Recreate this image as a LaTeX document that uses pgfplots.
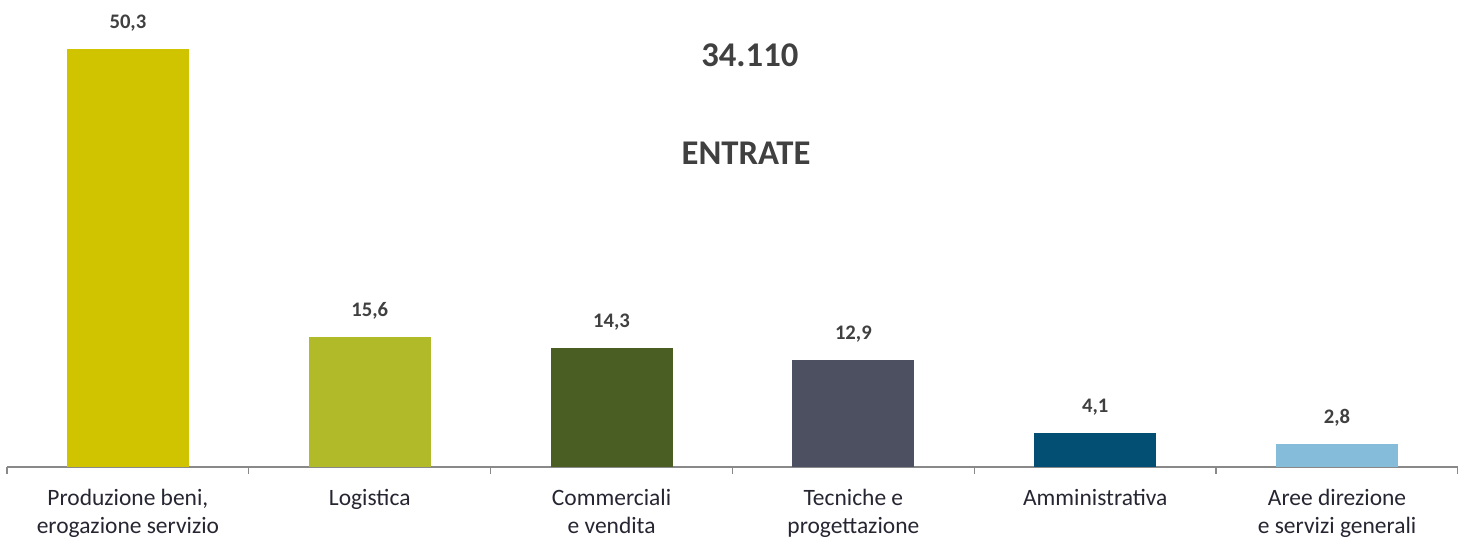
\documentclass[border=0pt]{standalone}
\usepackage{pgfplots}
\pgfplotsset{compat=1.18}
\usepackage{fontspec}
\setmainfont{Carlito}
\definecolor{c1}{HTML}{D0C400}
\definecolor{c2}{HTML}{B1BB29}
\definecolor{c3}{HTML}{4A5E23}
\definecolor{c4}{HTML}{4D5060}
\definecolor{c5}{HTML}{024F73}
\definecolor{c6}{HTML}{84BCD9}
\definecolor{axisgrey}{HTML}{898989}
\definecolor{txtgrey}{HTML}{404040}
\definecolor{lblcol}{HTML}{262632}
\begin{document}
\begin{tikzpicture}
\useasboundingbox (-5.25pt,-54.75pt) rectangle (1088.25pt,350.25pt);
\begin{axis}[
  at={(0,0)}, anchor=south west,
  scale only axis, width=1088.25pt, height=350.25pt,
  xmin=-0.5, xmax=5.5, ymin=0, ymax=56.2,
  clip=false,
  hide y axis,
  axis x line*=bottom,
  x axis line style={-, draw=axisgrey, line width=1pt},
  xtick={0,...,5},
  xticklabels={{Produzione beni,\\erogazione servizio},Logistica,{Commerciali\\e vendita},{Tecniche e\\progettazione},Amministrativa,{Aree direzione\\e servizi generali}},
  xticklabel style={align=center, anchor=north, inner sep=0pt, yshift=-16.5pt, font=\fontsize{17.6pt}{21pt}\selectfont, text=lblcol},
  major tick length=0pt,
  minor xtick={-0.5,0.5,...,5.5},
  minor tick length=5.25pt,
  tick align=outside,
  minor tick style={draw=axisgrey, line width=1pt},
  ybar, bar width=91.5pt,
  /pgf/number format/assume math mode=true,
  nodes near coords,
  nodes near coords style={font=\bfseries\fontsize{15.5pt}{18pt}\selectfont, text=txtgrey, anchor=base, inner sep=0pt, yshift=15.4pt,
    /pgf/number format/.cd, fixed, fixed zerofill, precision=1, use comma},
]
\addplot[fill=c1, draw=none, bar shift=0pt] coordinates {(0,50.3)};
\addplot[fill=c2, draw=none, bar shift=0pt] coordinates {(1,15.6)};
\addplot[fill=c3, draw=none, bar shift=0pt] coordinates {(2,14.3)};
\addplot[fill=c4, draw=none, bar shift=0pt] coordinates {(3,12.9)};
\addplot[fill=c5, draw=none, bar shift=0pt] coordinates {(4,4.1)};
\addplot[fill=c6, draw=none, bar shift=0pt] coordinates {(5,2.8)};
\node[font=\bfseries\fontsize{26pt}{30pt}\selectfont, text=txtgrey, inner sep=0pt] at (axis cs:2.572,49.6) {34.110};
\node[font=\bfseries\fontsize{26pt}{30pt}\selectfont, text=txtgrey, inner sep=0pt] at (axis cs:2.556,37.7) {ENTRATE};
\end{axis}
\end{tikzpicture}
\end{document}
